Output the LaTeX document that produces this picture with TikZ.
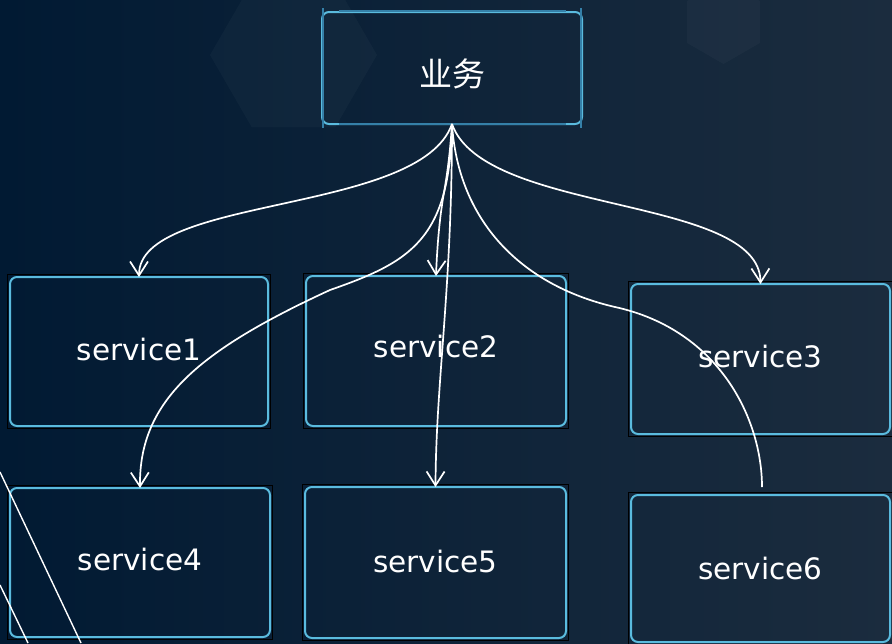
\documentclass[tikz,border=0pt]{standalone}
\usepackage{fontspec}
\setmainfont{DejaVu Sans}
\newfontfamily\cjkfont{Noto Sans CJK SC}
\usetikzlibrary{arrows.meta}
\definecolor{bgL}{HTML}{011A33}
\definecolor{bgM}{HTML}{0A2440}
\definecolor{bgR}{HTML}{1B2C3E}
\definecolor{edgecol}{HTML}{5ABBDE}
\definecolor{decocol}{HTML}{3580A8}
\begin{document}
\begin{tikzpicture}[x=1pt,y=-1pt,
  box/.style={draw=edgecol, line width=2pt, rounded corners=7pt, inner sep=0pt, outer sep=0pt,
    text=white, font=\fontsize{29.5}{31}\selectfont, text depth=0pt},
  conn/.style={draw=white, line width=1.7pt},
  arr/.style={conn, -{Straight Barb[length=14pt,width=18pt]}},
  framebox/.style={draw=black, line width=1.6pt},
  decoline/.style={draw=decocol, line width=1.5pt},
  hexa/.style={fill=white, fill opacity=0.028}]
% background
\fill[left color=bgL, middle color=bgM, right color=bgR] (0,0) rectangle (892,643);
\useasboundingbox (0,0) rectangle (892,643);
% faint hexagons
\fill[hexa] (377,55) -- (335.25,127.3) -- (251.75,127.3) -- (210,55) -- (251.75,-17.3) -- (335.25,-17.3) -- cycle;
\fill[hexa] (759.9,43) -- (723.5,64) -- (687.1,43) -- (687.1,1) -- (723.5,-20) -- (759.9,1) -- cycle;

% nodes
\node[box, minimum width=260pt, minimum height=112pt, text height=36pt,
      font=\cjkfont\fontsize{33}{36}\selectfont] (top) at (452,68) {业务};
\node[box, minimum width=258pt, minimum height=149pt, text height=17pt] (s1) at (139,351.5) {service1};
\node[box, minimum width=260pt, minimum height=150pt, text height=13pt] (s2) at (436,351) {service2};
\node[box, minimum width=259pt, minimum height=150pt, text height=17pt] (s3) at (760.5,359) {service3};
\node[box, minimum width=260pt, minimum height=149pt, text height=16pt] (s4) at (140,562.5) {service4};
\node[box, minimum width=261pt, minimum height=151pt, text height=20pt] (s5) at (435.5,562.5) {service5};
\node[box, minimum width=259pt, minimum height=147pt, text height=22pt] (s6) at (760.5,568.5) {service6};

% outer frames of the service boxes
\foreach \n in {s1,s2,s3,s4,s5,s6}
  \draw[framebox] ([shift={(-2.5,-2.5)}]\n.north west) rectangle ([shift={(2.5,2.5)}]\n.south east);

% decorations of the top box
\draw[decoline] ([shift={(1,-4)}]top.north west) -- ([shift={(1,4)}]top.south west);
\draw[decoline] ([shift={(-1,-4)}]top.north east) -- ([shift={(-1,4)}]top.south east);
\draw[decoline, line width=2pt] ([shift={(17,-1)}]top.north west) -- ([shift={(-16,-1)}]top.north east);
\draw[decoline, line width=2pt] ([shift={(17,0)}]top.south west) -- ([shift={(-16,0)}]top.south east);

% connectors
\coordinate (s6end) at ([shift={(1.5,-8)}]s6.north);
\draw[arr] (top.south) .. controls (420,215) and (139,195) .. (s1.north);
\draw[arr] (top.south) .. controls (484,215) and (760,195) .. (s3.north);
\draw[arr] (top.south) .. controls (449,170) and (444,190) .. (442,205) .. controls (439,225) and (437,250) .. (s2.north);
\draw[arr] (top.south) .. controls (452,290) and (436,380) .. (s5.north);
\draw[arr] (top.south) .. controls (450,240) and (410,262) .. (330,290) .. controls (200,350) and (139,400) .. (s4.north);
\draw[conn] (top.south) .. controls (458,220) and (520,285) .. (615,307) .. controls (720,330) and (762,420) .. (s6end);

% stray lines at the bottom left
\coordinate (la) at (0,472);
\coordinate (lb) at (81,643);
\coordinate (lc) at (0,585);
\coordinate (ld) at (28,643);
\draw[conn, line width=1.4pt] (la) -- (lb);
\draw[conn, line width=1.4pt] (lc) -- (ld);
\end{tikzpicture}
\end{document}
